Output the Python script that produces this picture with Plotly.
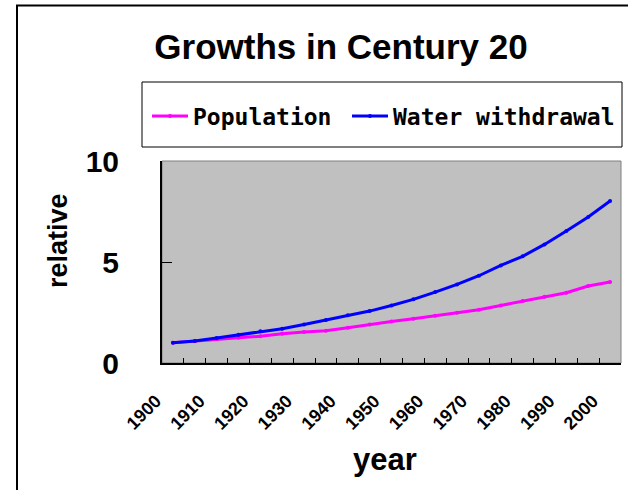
import plotly.graph_objects as go

# Years sampled every five years across the 20th century
years = [1900, 1905, 1910, 1915, 1920, 1925, 1930, 1935, 1940, 1945, 1950,
         1955, 1960, 1965, 1970, 1975, 1980, 1985, 1990, 1995, 2000]

# Growth relative to 1900 (= 1.0)
population = [1.00, 1.09, 1.19, 1.25, 1.32, 1.45, 1.53, 1.60, 1.75, 1.91, 2.05,
              2.19, 2.34, 2.49, 2.64, 2.85, 3.07, 3.28, 3.48, 3.81, 4.01]
water_withdrawal = [1.00, 1.09, 1.24, 1.40, 1.57, 1.70, 1.91, 2.13, 2.36, 2.57, 2.85,
                    3.15, 3.51, 3.89, 4.32, 4.83, 5.28, 5.87, 6.53, 7.23, 8.02]

year_labels = [1900, 1910, 1920, 1930, 1940, 1950, 1960, 1970, 1980, 1990, 2000]
y_ticks = [0, 5, 10]

W, H = 628, 490
L, R, T, B = 162, 7, 161, 127
PW, PH = W - L - R, H - T - B


def px_x(px):
    return (px - L) / PW


def px_y(py):
    return (H - B - py) / PH


# category-style axis: each year occupies one slot, ticks sit on slot edges
half = (years[1] - years[0]) / 2
x_range = [years[0] - half, years[-1] + half]
boundaries = [y - half for y in years] + [years[-1] + half]

fig = go.Figure()
fig.add_trace(go.Scatter(
    x=years, y=population, name="Population", mode="lines+markers",
    line=dict(color="#FF00FF", width=3), marker=dict(size=4, color="#FF00FF"),
    legend="legend",
))
fig.add_trace(go.Scatter(
    x=years, y=water_withdrawal, name="Water withdrawal", mode="lines+markers",
    line=dict(color="#0000FF", width=3), marker=dict(size=4, color="#0000FF"),
    legend="legend2",
))
# empty trace so the labelled year axis gets drawn
fig.add_trace(go.Scatter(
    x=[], y=[], xaxis="x2", yaxis="y", showlegend=False, hoverinfo="skip",
))

bold = "Liberation Sans, Arial, sans-serif"
legend_font = dict(family="DejaVu Sans Mono", size=23, color="black", weight="bold")
legend_common = dict(orientation="h", xanchor="left", y=px_y(116), yanchor="middle",
                     bgcolor="rgba(0,0,0,0)", borderwidth=0, font=legend_font,
                     itemwidth=36)

fig.update_layout(
    width=W, height=H,
    margin=dict(l=L, r=R, t=T, b=B, pad=0),
    paper_bgcolor="white",
    plot_bgcolor="#C0C0C0",
    title=dict(text="Growths in Century 20", x=341 / W, xanchor="center",
               y=1 - 47 / H, yanchor="middle",
               font=dict(family=bold, size=35, color="black", weight="bold")),
    showlegend=True,
    legend=dict(x=px_x(147), **legend_common),
    legend2=dict(x=px_x(347), **legend_common),
    xaxis=dict(
        range=x_range, tickmode="array", tickvals=boundaries,
        showticklabels=False, ticks="inside", ticklen=5,
        tickcolor="black", tickwidth=1,
        showline=True, linecolor="black", linewidth=2, showgrid=False,
        zeroline=False,
    ),
    xaxis2=dict(
        range=x_range, overlaying="x", anchor="y", side="bottom",
        tickmode="array", tickvals=year_labels,
        ticktext=[str(v) for v in year_labels], ticks="", tickangle=-45,
        tickfont=dict(family=bold, size=18, color="black", weight="bold"),
        ticklabelstandoff=23, ticklabelshift=-17,
        showline=False, showgrid=False, zeroline=False,
    ),
    yaxis=dict(
        range=[0, 10], tickmode="array", tickvals=y_ticks,
        ticks="inside", ticklen=10, tickcolor="black", tickwidth=1,
        tickfont=dict(family=bold, size=30, color="black", weight="bold"),
        ticklabelstandoff=35,
        showline=True, linecolor="black", linewidth=2, showgrid=False,
        zeroline=False,
    ),
    shapes=[
        # outer chart frame
        dict(type="rect", xref="paper", yref="paper",
             x0=px_x(17), x1=px_x(632), y0=px_y(494), y1=px_y(5.5),
             line=dict(color="black", width=2), fillcolor="rgba(0,0,0,0)",
             layer="above"),
        # plot area frame (top and right edges)
        dict(type="rect", xref="paper", yref="paper",
             x0=0, x1=1, y0=0, y1=1,
             line=dict(color="#808080", width=1), fillcolor="rgba(0,0,0,0)",
             layer="below"),
        # legend box
        dict(type="rect", xref="paper", yref="paper",
             x0=px_x(142), x1=px_x(622), y0=px_y(147), y1=px_y(82),
             line=dict(color="black", width=1), fillcolor="white",
             layer="above"),
    ],
    annotations=[
        dict(text="relative", xref="paper", yref="paper",
             x=px_x(58), y=px_y(241), xanchor="center", yanchor="middle",
             textangle=-90, showarrow=False,
             font=dict(family=bold, size=27, color="black", weight="bold")),
        dict(text="year", xref="paper", yref="paper",
             x=px_x(385), y=px_y(459), xanchor="center", yanchor="middle",
             showarrow=False,
             font=dict(family=bold, size=31, color="black", weight="bold")),
    ],
)

fig.write_html("out.html")
